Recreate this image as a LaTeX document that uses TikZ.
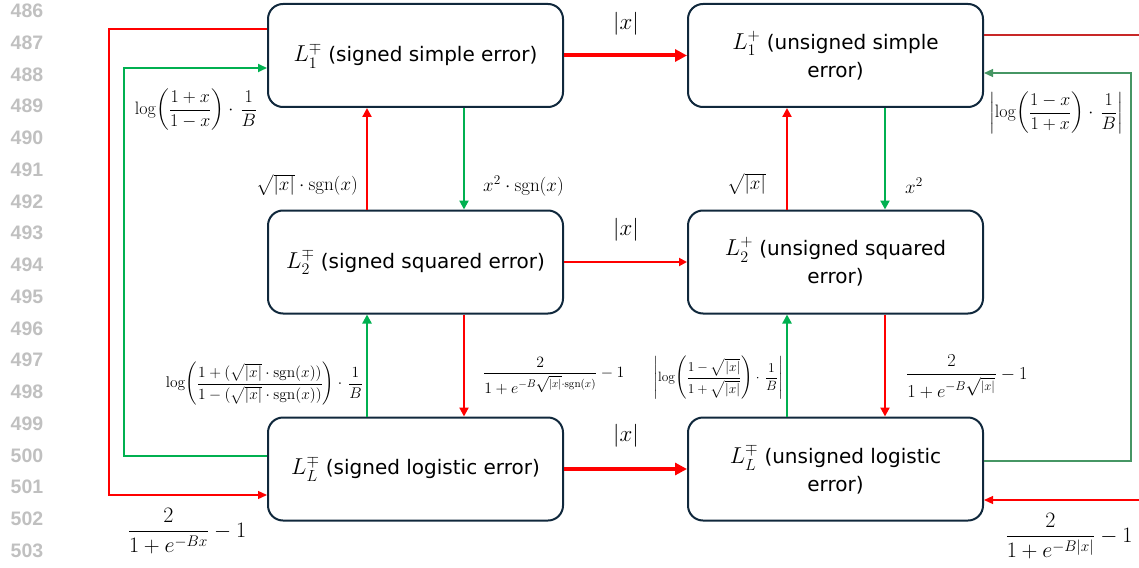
\documentclass[tikz,border=0pt]{standalone}
\usepackage{fix-cm}
\usepackage{amsmath}
\usepackage[no-math]{fontspec}
\setmainfont{DejaVu Sans}
\newfontfamily\numfont{Liberation Sans}
\usetikzlibrary{arrows.meta}
\definecolor{myred}{RGB}{255,0,0}
\definecolor{mygreen}{RGB}{0,176,80}
\definecolor{boxline}{RGB}{16,40,60}
\definecolor{lngray}{RGB}{192,192,192}
\definecolor{darkred}{RGB}{200,40,40}
\definecolor{greygreen}{RGB}{70,150,100}
\newcommand{\bigL}[1]{{\fontsize{23}{28}\selectfont$#1$}}
\begin{document}
\begin{tikzpicture}[x=1pt,y=-1pt,
  box/.style={draw=boxline, line width=2pt, rounded corners=15pt, minimum width=295pt, minimum height=103pt,
    align=center, inner sep=0pt, font=\fontsize{20}{28}\selectfont},
  lineno/.style={font=\numfont\bfseries\fontsize{19.5}{20}\selectfont, text=lngray, inner sep=0pt},
  lbl/.style={inner sep=0pt, font=\fontsize{23}{26}\selectfont},
  vlbl/.style={inner sep=0pt, font=\fontsize{19}{22}\selectfont},
  flbl/.style={inner sep=0pt, font=\fontsize{18}{20}\selectfont},
  frlbl/.style={inner sep=0pt, font=\fontsize{22}{24}\selectfont},
  thickarr/.style={draw=myred, line width=4pt, -{Triangle[length=12pt,width=12pt]}},
  midarr/.style={draw=myred, line width=2pt, -{Triangle[length=8pt,width=8pt]}},
  redv/.style={draw=myred, line width=2.5pt, -{Triangle[length=9pt,width=9pt]}},
  greenv/.style={draw=mygreen, line width=2.5pt, -{Triangle[length=9pt,width=9pt]}},
  redthin/.style={draw=myred, line width=1.3pt},
  greenthin/.style={draw=mygreen, line width=1.8pt},
  greenrt/.style={draw=greygreen, line width=1.2pt},
  redrt/.style={draw=darkred, line width=1.2pt},
  tip/.style={-{Triangle[length=9pt,width=8pt]}}
]
\useasboundingbox (0,0) rectangle (1139,567);

% line numbers
\foreach \n [count=\i from 0] in {486,...,503}
  \node[lineno] (ln\n) at (27, 11+31.75*\i) {\n};

% boxes
\node[box] (b1) at (415.5,55.5) {\bigL{L_1^{\mp}} (signed simple error)};
\node[box] (b2) at (835.5,55.5) {\bigL{L_1^{+}} (unsigned simple\\error)};
\node[box] (b3) at (415.5,262) {\bigL{L_2^{\mp}} (signed squared error)};
\node[box] (b4) at (835.5,262) {\bigL{L_2^{+}} (unsigned squared\\error)};
\node[box] (b5) at (415.5,469) {\bigL{L_L^{\mp}} (signed logistic error)};
\node[box] (b6) at (835.5,469) {\bigL{L_L^{\mp}} (unsigned logistic\\error)};

% horizontal arrows
\draw[thickarr] (b1.east) -- (b2.west);
\draw[midarr] (b3.east) -- (b4.west);
\draw[thickarr] (b5.east) -- (b6.west);
\node[lbl] (h1) at (626,24) {$\lvert x\rvert$};
\node[lbl] (h2) at (626,230) {$\lvert x\rvert$};
\node[lbl] (h3) at (626,436) {$\lvert x\rvert$};

% vertical arrows, top row
\draw[redv] ([xshift=-48.5pt]b3.north) -- ([xshift=-48.5pt]b1.south);
\draw[greenv] ([xshift=48.5pt]b1.south) -- ([xshift=48.5pt]b3.north);
\draw[redv] ([xshift=-48.5pt]b4.north) -- ([xshift=-48.5pt]b2.south);
\draw[greenv] ([xshift=49.5pt]b2.south) -- ([xshift=49.5pt]b4.north);
\node[vlbl, anchor=east] (v1) at (358,185) {$\sqrt{\lvert x\rvert}\cdot\operatorname{sgn}(x)$};
\node[vlbl, anchor=west] (v2) at (483,186) {$x^2\cdot\operatorname{sgn}(x)$};
\node[vlbl, anchor=east] (v3) at (766,184) {$\sqrt{\lvert x\rvert}$};
\node[vlbl, anchor=west] (v4) at (905,186) {$x^2$};

% vertical arrows, bottom row
\draw[greenv] ([xshift=-48.5pt]b5.north) -- ([xshift=-48.5pt]b3.south);
\draw[redv] ([xshift=48.5pt]b3.south) -- ([xshift=48.5pt]b5.north);
\draw[greenv] ([xshift=-48.5pt]b6.north) -- ([xshift=-48.5pt]b4.south);
\draw[redv] ([xshift=49.5pt]b4.south) -- ([xshift=49.5pt]b6.north);
\node[inner sep=0pt, font=\fontsize{15.5}{18}\selectfont, anchor=east] (w1) at (363,384)
  {$\displaystyle \log\!\left(\frac{1+(\sqrt{\lvert x\rvert}\cdot\operatorname{sgn}(x))}{1-(\sqrt{\lvert x\rvert}\cdot\operatorname{sgn}(x))}\right)\cdot\,\frac{1}{B}$};
\node[inner sep=0pt, font=\fontsize{15.8}{18}\selectfont, anchor=west] (w2) at (483,376)
  {$\displaystyle \frac{2}{1+e^{-B\sqrt{\lvert x\rvert}\cdot\operatorname{sgn}(x)}}-1$};
\node[inner sep=0pt, font=\fontsize{13.5}{16}\selectfont, anchor=east] (w3) at (783,378)
  {$\displaystyle \left\lvert\log\!\left(\frac{1-\sqrt{\lvert x\rvert}}{1+\sqrt{\lvert x\rvert}}\right)\cdot\,\frac{1}{B}\right\rvert$};
\node[inner sep=0pt, font=\fontsize{18.3}{20}\selectfont, anchor=west] (w4) at (906,377)
  {$\displaystyle \frac{2}{1+e^{-B\sqrt{\lvert x\rvert}}}-1$};

% left loops
\draw[redthin, tip] ([yshift=26.5pt]b1.west) -- ++(-158,0) |- ([yshift=-26pt]b5.west);
\draw[greenthin, tip] ([yshift=13pt]b5.west) -- ++(-143,0) |- ([yshift=-12.5pt]b1.west);
\node[flbl] (o1) at (196,110) {$\displaystyle \log\!\left(\frac{1+x}{1-x}\right)\cdot\,\frac{1}{B}$};
\node[frlbl] (o2) at (187,531) {$\displaystyle \frac{2}{1+e^{-Bx}}-1$};

% right loops
\coordinate (redout) at (1139,35);
\coordinate (redin) at (1139,500);
\draw[redrt] ([yshift=20.5pt]b2.east) -- (redout);
\draw[greenrt, tip] ([yshift=8pt]b6.east) -- ++(147,0) |- ([yshift=-17.5pt]b2.east);
\draw[redthin, tip] (redin) -- ([yshift=-31pt]b6.east);
\node[flbl] (o3) at (1056,113) {$\displaystyle \left\lvert\log\!\left(\frac{1-x}{1+x}\right)\cdot\,\frac{1}{B}\right\rvert$};
\node[frlbl] (o4) at (1069,536) {$\displaystyle \frac{2}{1+e^{-B\lvert x\rvert}}-1$};
\end{tikzpicture}
\end{document}
